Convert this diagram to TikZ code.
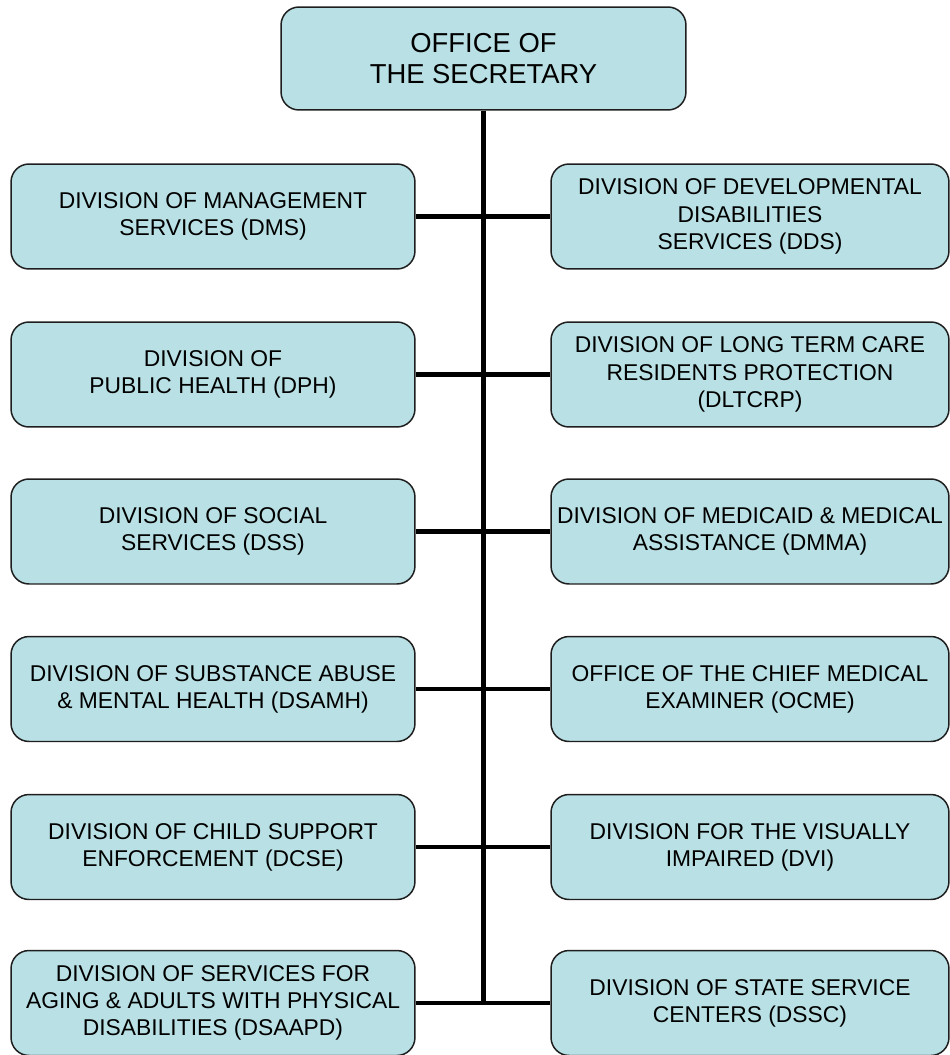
\documentclass[tikz,border=0pt]{standalone}
\usepackage{fontspec}
\setmainfont{Liberation Sans}
\usepackage{tikz}
\definecolor{boxfill}{RGB}{185, 224, 228}
\definecolor{boxline}{RGB}{30, 30, 30}
\tikzset{
  unit/.style={draw=boxline, line width=0.85pt, fill=boxfill, rounded corners=0.36cm,
    align=center, inner sep=0pt, font=\fontsize{13}{15.5}\selectfont},
  leftunit/.style={unit, minimum width=8.08cm, minimum height=2.1cm},
  rightunit/.style={unit, minimum width=7.96cm, minimum height=2.1cm},
  link/.style={black, line width=2.5pt}
}

\begin{document}
\begin{tikzpicture}[x=0.02cm, y=-0.02cm]
  \useasboundingbox (0,0) rectangle (950,1055);
  \node[unit, minimum width=8.1cm, minimum height=2.06cm, font=\fontsize{15.6}{17.3}\selectfont]
    (sec) at (483.5,58.5) {OFFICE OF\\THE SECRETARY};
  % left column
  \node[leftunit] (dms) at (213,216.5) {DIVISION OF MANAGEMENT\\SERVICES (DMS)};
  \node[leftunit] (dph) at (213,374.5) {DIVISION OF\\PUBLIC HEALTH (DPH)};
  \node[leftunit] (dss) at (213,531.5) {DIVISION OF SOCIAL\\SERVICES (DSS)};
  \node[leftunit] (dsamh) at (213,689) {DIVISION OF SUBSTANCE ABUSE\\\& MENTAL HEALTH (DSAMH)};
  \node[leftunit] (dcse) at (213,847) {DIVISION OF CHILD SUPPORT\\ENFORCEMENT (DCSE)};
  \node[leftunit] (dsaapd) at (213,1003) {DIVISION OF SERVICES FOR\\AGING \& ADULTS WITH PHYSICAL\\DISABILITIES (DSAAPD)};
  % right column
  \node[rightunit] (dds) at (750,216.5) {DIVISION OF DEVELOPMENTAL\\DISABILITIES\\SERVICES (DDS)};
  \node[rightunit] (dltcrp) at (750,374.5) {DIVISION OF LONG TERM CARE\\RESIDENTS PROTECTION\\(DLTCRP)};
  \node[rightunit] (dmma) at (750,531.5) {DIVISION OF MEDICAID \& MEDICAL\\ASSISTANCE (DMMA)};
  \node[rightunit] (ocme) at (750,689) {OFFICE OF THE CHIEF MEDICAL\\EXAMINER (OCME)};
  \node[rightunit] (dvi) at (750,847) {DIVISION FOR THE VISUALLY\\IMPAIRED (DVI)};
  \node[rightunit] (dssc) at (750,1003) {DIVISION OF STATE SERVICE\\CENTERS (DSSC)};
  % spine and branches
  \draw[link] (sec.south) -- (sec.south |- dsaapd.east);
  \foreach \a/\b in {dms/dds, dph/dltcrp, dss/dmma, dsamh/ocme, dcse/dvi, dsaapd/dssc}
    \draw[link] (\a.east) -- (\b.west);
\end{tikzpicture}
\end{document}
